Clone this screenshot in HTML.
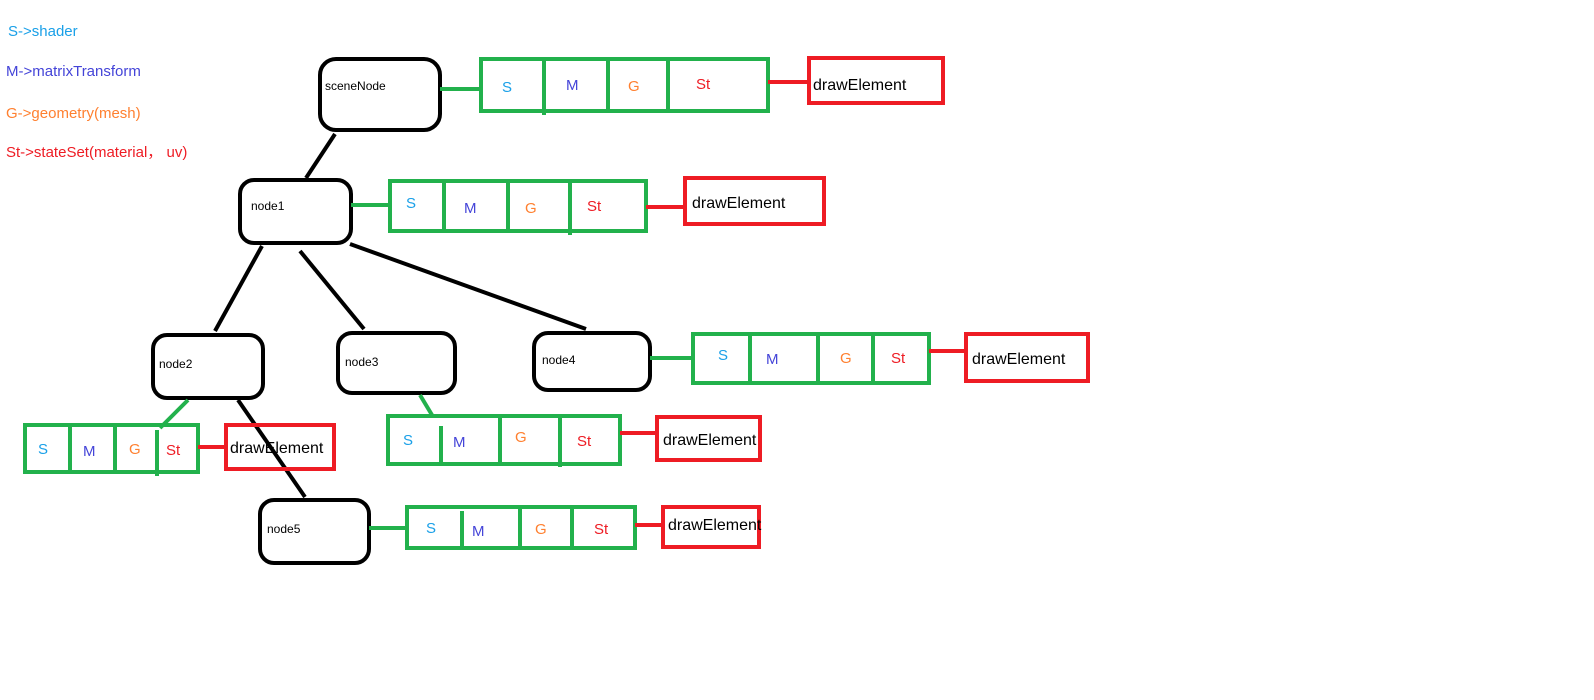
<!DOCTYPE html>
<html><head><style>body{margin:0;background:#fff}svg{display:block}</style></head><body>
<svg width="1594" height="700" xmlns="http://www.w3.org/2000/svg" font-family="'Liberation Sans','Noto Sans CJK SC',sans-serif">
<g font-size="15">
<text x="8" y="36" fill="#1aa0e8">S-&gt;shader</text>
<text x="6" y="76" fill="#4444d8">M-&gt;matrixTransform</text>
<text x="6" y="118" fill="#ff8030">G-&gt;geometry(mesh)</text>
<text x="6" y="157" fill="#ee1c24">St-&gt;stateSet(material， uv)</text>
</g>
<g stroke="#000" stroke-width="4" fill="none">
<line x1="335" y1="134" x2="306" y2="178"/>
<line x1="262" y1="246" x2="215" y2="331"/>
<line x1="300" y1="251" x2="364" y2="329"/>
<line x1="350" y1="244" x2="586" y2="329"/>
<line x1="238" y1="400" x2="305" y2="497"/>
<rect x="320" y="59" width="120" height="71" rx="16"/>
<rect x="240" y="180" width="111" height="63" rx="14"/>
<rect x="153" y="335" width="110" height="63" rx="14"/>
<rect x="338" y="333" width="117" height="60" rx="14"/>
<rect x="534" y="333" width="116" height="57" rx="14"/>
<rect x="260" y="500" width="109" height="63" rx="14"/>
</g>
<g font-size="12" fill="#000">
<text x="325" y="90">sceneNode</text>
<text x="251" y="210">node1</text>
<text x="159" y="368">node2</text>
<text x="345" y="366">node3</text>
<text x="542" y="364">node4</text>
<text x="267" y="533">node5</text>
</g>
<g stroke="#22b14c" stroke-width="4" fill="none">
<line x1="440" y1="89" x2="481" y2="89"/>
<rect x="481" y="59" width="287" height="52"/>
<line x1="544" y1="59" x2="544" y2="115"/><line x1="608" y1="59" x2="608" y2="113"/><line x1="668" y1="59" x2="668" y2="113"/>
<line x1="351" y1="205" x2="390" y2="205"/>
<rect x="390" y="181" width="256" height="50"/>
<line x1="444" y1="181" x2="444" y2="231"/><line x1="508" y1="181" x2="508" y2="231"/><line x1="570" y1="181" x2="570" y2="235"/>
<line x1="650" y1="358" x2="693" y2="358"/>
<rect x="693" y="334" width="236" height="49"/>
<line x1="750" y1="334" x2="750" y2="383"/><line x1="818" y1="334" x2="818" y2="383"/><line x1="873" y1="334" x2="873" y2="385"/>
<line x1="420" y1="395" x2="432" y2="415"/>
<rect x="388" y="416" width="232" height="48"/>
<line x1="441" y1="426" x2="441" y2="464"/><line x1="500" y1="416" x2="500" y2="464"/><line x1="560" y1="416" x2="560" y2="467"/>
<line x1="188" y1="400" x2="160" y2="428"/>
<rect x="25" y="425" width="173" height="47"/>
<line x1="70" y1="425" x2="70" y2="470"/><line x1="115" y1="425" x2="115" y2="472"/><line x1="157" y1="430" x2="157" y2="476"/>
<line x1="369" y1="528" x2="407" y2="528"/>
<rect x="407" y="507" width="228" height="41"/>
<line x1="462" y1="511" x2="462" y2="548"/><line x1="520" y1="507" x2="520" y2="548"/><line x1="572" y1="507" x2="572" y2="548"/>
</g>
<g font-size="15">
<g fill="#1aa0e8"><text x="502" y="92">S</text><text x="406" y="208">S</text><text x="718" y="360">S</text><text x="403" y="445">S</text><text x="38" y="454">S</text><text x="426" y="533">S</text></g>
<g fill="#4444d8"><text x="566" y="90">M</text><text x="464" y="213">M</text><text x="766" y="364">M</text><text x="453" y="447">M</text><text x="83" y="456">M</text><text x="472" y="536">M</text></g>
<g fill="#ff8030"><text x="628" y="91">G</text><text x="525" y="213">G</text><text x="840" y="363">G</text><text x="515" y="442">G</text><text x="129" y="454">G</text><text x="535" y="534">G</text></g>
<g fill="#ee1c24"><text x="696" y="89">St</text><text x="587" y="211">St</text><text x="891" y="363">St</text><text x="577" y="446">St</text><text x="166" y="455">St</text><text x="594" y="534">St</text></g>
</g>
<g stroke="#ee1c24" stroke-width="4" fill="none">
<line x1="768" y1="82" x2="808" y2="82"/><rect x="809" y="58" width="134" height="45"/>
<line x1="646" y1="207" x2="684" y2="207"/><rect x="685" y="178" width="139" height="46"/>
<line x1="929" y1="351" x2="965" y2="351"/><rect x="966" y="334" width="122" height="47"/>
<line x1="620" y1="433" x2="657" y2="433"/><rect x="657" y="417" width="103" height="43"/>
<line x1="198" y1="447" x2="226" y2="447"/><rect x="226" y="425" width="108" height="44"/>
<line x1="635" y1="525" x2="664" y2="525"/><rect x="663" y="507" width="96" height="40"/>
</g>
<g font-size="16" fill="#000">
<text x="813" y="90">drawElement</text>
<text x="692" y="208">drawElement</text>
<text x="972" y="364">drawElement</text>
<text x="663" y="445">drawElement</text>
<text x="230" y="453">drawElement</text>
<text x="668" y="530">drawElement</text>
</g>
</svg>
</body></html>
